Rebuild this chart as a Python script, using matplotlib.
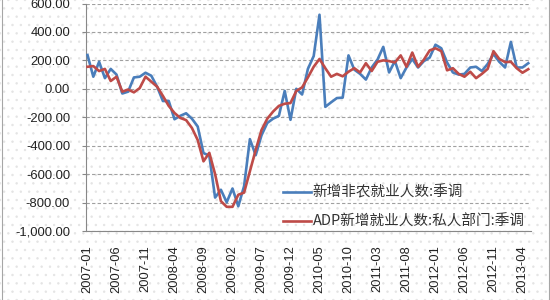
import matplotlib
matplotlib.use("Agg")
import matplotlib.pyplot as plt
from matplotlib.patches import Rectangle
from matplotlib.ticker import FuncFormatter
import numpy as np

plt.rcParams['font.family'] = ['Liberation Sans', 'Noto Sans CJK SC', 'DejaVu Sans']

# ---- data (thousands, monthly 2007-01 .. 2013-05) ----
months = [f"{y}-{m:02d}" for y in range(2007, 2014) for m in range(1, 13)][:77]

nfp = [238, 85, 190, 75, 140, 100, -33, -20, 80, 85, 113, 92,
       15, -86, -85, -214, -190, -172, -210, -265, -452, -470, -765, -710,
       -798, -701, -826, -684, -354, -467, -327, -240, -210, -190, -15, -218,
       0, -40, 140, 230, 521, -127, -95, -65, -62, 235, 135, 105,
       65, 150, 205, 295, 115, 195, 75, 150, 210, 150, 195, 220,
       310, 285, 185, 115, 100, 105, 150, 155, 125, 175, 245, 190,
       150, 330, 150, 150, 180]

adp = [155, 160, 125, 140, 55, 85, -20, -5, -25, 5, 85, 50,
       15, -50, -120, -170, -205, -220, -275, -360, -510, -450, -600, -790,
       -830, -830, -745, -730, -580, -430, -290, -210, -160, -120, -105, -100,
       -15, 10, 80, 155, 210, 145, 85, 105, 88, 120, 145, 115,
       180, 125, 190, 200, 195, 185, 235, 155, 255, 155, 205, 270,
       285, 265, 130, 145, 105, 85, 120, 75, 105, 140, 265, 210,
       188, 190, 145, 113, 138]

label_nfp = "新增非农就业人数:季调"
label_adp = "ADP新增就业人数:私人部门:季调"
yticks = [-1000, -800, -600, -400, -200, 0, 200, 400, 600]
tick_step = 5

W, H = 550, 300
fig = plt.figure(figsize=(W / 100, H / 100), dpi=100)

# dotted background texture
plt.rcParams['hatch.linewidth'] = 0.5
bg = Rectangle((0, 0), 1, 1, transform=fig.transFigure, facecolor='white',
               edgecolor='#e4e4e4', hatch='..', linewidth=0, zorder=-10)
fig.patches.append(bg)
# figure border lines
for xx in (1.5 / W, 548.5 / W):
    fig.add_artist(plt.Line2D([xx, xx], [0, 1], transform=fig.transFigure,
                              color='#a6a6a6', lw=0.8))

left, right = 86 / W, 531 / W
top, bottom = 1 - 3.5 / H, 1 - 231 / H
ax = fig.add_axes([left, bottom, right - left, top - bottom])
ax.set_facecolor('none')

x = np.arange(len(months))
ax.plot(x, nfp, color='#4a7ebb', lw=1.9, label=label_nfp, zorder=3)
ax.plot(x, adp, color='#be4b48', lw=1.9, label=label_adp, zorder=4)

ax.set_xlim(-0.26, 76.47)
ax.set_ylim(-1000, 600)
ax.set_yticks(yticks)
ax.yaxis.set_major_formatter(FuncFormatter(lambda v, p: f"{v:,.2f}"))
ax.grid(axis='y', color='#a0a0a0', lw=0.8, linestyle=(0, (3, 2)))
ax.set_axisbelow(True)

tpos = x[::tick_step]
ax.set_xticks(tpos)
ax.set_xticklabels([months[i] for i in tpos], rotation=90)
ax.tick_params(axis='x', length=0, pad=10, labelsize=9.3, colors='#222222')
ax.tick_params(axis='y', length=3, pad=8.5, labelsize=9.4, colors='#222222',
               color='#888888', width=0.8)
for s in ('top', 'right'):
    ax.spines[s].set_visible(False)
for s in ('left', 'bottom'):
    ax.spines[s].set_color('#888888')
    ax.spines[s].set_linewidth(0.8)

leg = ax.legend(loc='center left', bbox_to_anchor=(283 / W, 1 - 207 / H),
                bbox_transform=fig.transFigure, frameon=False,
                prop={'family': ['Noto Sans CJK SC', 'DejaVu Sans'], 'size': 10.5},
                handlelength=1.95, handletextpad=0.1, labelspacing=1.0,
                borderpad=0, borderaxespad=0)
for t in leg.get_texts():
    t.set_color('#333333')

fig.savefig('out.png', dpi=100)
